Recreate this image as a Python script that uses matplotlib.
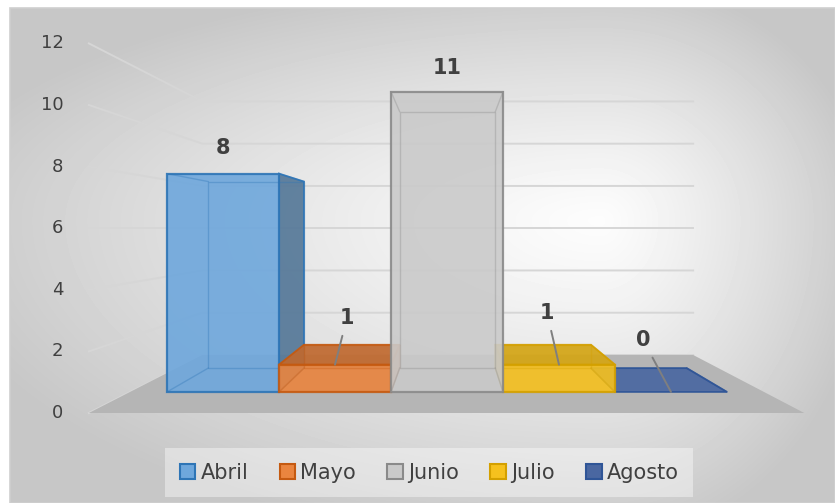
import numpy as np
import matplotlib.pyplot as plt
from matplotlib.patches import Polygon, Patch, Rectangle

months = ['Abril', 'Mayo', 'Junio', 'Julio', 'Agosto']
counts = [8, 1, 11, 1, 0]
yticks = [0, 2, 4, 6, 8, 10, 12]

face = ['#6ea7dc', '#ea853f', '#cacaca', '#f6c11e', '#4a67a1']
side = ['#557898', '#b8652c', '#a8a8a8', '#cf9f12', '#3e5b92']
top = ['#5a8fc4', '#c0692f', '#b5b5b5', '#d4a514', '#4a67a1']
edge = ['#2e75b6', '#c55a11', '#8a8a8a', '#d4a000', '#2f5597']

# label offsets in pixels (dx, dy up) and whether a leader line is drawn
lab_off = [(0, 26), (12, 47), (0, 24), (-12, 52), (-28, 52)]
leader = [False, True, False, True, True]

# fake 3d: vanishing point + depth scale factors
vx, vy = 2.03, 6.0
s_front, s_back, s_wall = 0.886, 0.757, 0.686
fx0, fx1 = -0.83, 4.83


def proj(x, y, s):
    return vx + (x - vx) * s, vy + (y - vy) * s


W, H = 835, 503
fig = plt.figure(figsize=(W / 100, H / 100), dpi=100)
fig.patch.set_facecolor('white')

# background gradient of the chart area
bg = fig.add_axes([10 / W, 0, (W - 10) / W, (H - 8) / H])
yy, xx = np.mgrid[8:H, 10:W]
cx, cy = 600, 220
tx = np.where(xx < cx, (cx - xx) / (cx - 10), (xx - cx) / (W - cx))
ty = np.where(yy < cy, (cy - yy) / (cy - 8), (yy - cy) / (H - cy))
t = np.clip(np.sqrt(tx ** 2 + ty ** 2) / 1.15, 0, 1)
shade = 0.99 - 0.21 * t ** 1.2
bg.imshow(shade, cmap='gray', vmin=0, vmax=1, aspect='auto', interpolation='bilinear')
bg.axis('off')
fig.add_artist(Rectangle((10 / W, 0), (W - 10) / W, (H - 8) / H, transform=fig.transFigure,
                         fill=False, ec='#cfcfcf', lw=1.2))

ax = fig.add_axes([0, 0, 1, 1])
ax.set_xlim(-1.533, 5.073)
ax.set_ylim(-2.922, 13.409)
ax.axis('off')

# gridlines on back + left walls
for v in yticks:
    a = proj(fx0, v, 1)
    b = proj(fx0, v, s_wall)
    c = proj(fx1, v, s_wall)
    ax.plot([a[0], b[0], c[0]], [a[1], b[1], c[1]], color='#d6d6d6', lw=1.4, zorder=1)
    ax.text(-1.03, v, str(v), ha='right', va='center', fontsize=13, color='#404040')

floor = [proj(fx0, 0, 1), proj(fx1, 0, 1), proj(fx1, 0, s_wall), proj(fx0, 0, s_wall)]
ax.add_patch(Polygon(floor, closed=True, fc='#b5b5b5', ec='none', zorder=2))


def draw_box(i, h, z):
    x0, x1 = i - 0.5, i + 0.5
    F = lambda x, y: proj(x, y, s_front)
    B = lambda x, y: proj(x, y, s_back)
    front = [F(x0, 0), F(x1, 0), F(x1, h), F(x0, h)]
    back = [B(x0, 0), B(x1, 0), B(x1, h), B(x0, h)]
    rside = [F(x1, 0), B(x1, 0), B(x1, h), F(x1, h)]
    lside = [F(x0, 0), B(x0, 0), B(x0, h), F(x0, h)]
    topf = [F(x0, h), F(x1, h), B(x1, h), B(x0, h)]
    if x1 < vx:
        ax.add_patch(Polygon(rside, fc=side[i], ec=edge[i], lw=1.3, alpha=0.92, zorder=z))
    if x0 > vx:
        ax.add_patch(Polygon(lside, fc=side[i], ec=edge[i], lw=1.3, alpha=0.92, zorder=z))
    if h < vy:
        ax.add_patch(Polygon(topf, fc=top[i], ec=edge[i], lw=1.3, alpha=0.92, zorder=z))
    if h > 0:
        ax.add_patch(Polygon(front, fc=face[i], ec=edge[i], lw=1.6, alpha=0.9, zorder=z))
    # see-through inner edges
    ax.add_patch(Polygon(back, fill=False, ec=edge[i], lw=1.0, alpha=0.35, zorder=z))
    for k in range(4):
        ax.plot([front[k][0], back[k][0]], [front[k][1], back[k][1]],
                color=edge[i], lw=1.0, alpha=0.35, zorder=z)


order = sorted(range(len(counts)), key=lambda k: -abs(k - vx))
for n, i in enumerate(order):
    draw_box(i, counts[i], 3 + n)

for i, h in enumerate(counts):
    p = proj(i, h, s_front)
    dx, dy = lab_off[i]
    ap = dict(arrowstyle='-', color='#7f7f7f', lw=1.4, shrinkA=4, shrinkB=0) if leader[i] else None
    ax.annotate(str(h), xy=p, xytext=(dx * 0.72, dy * 0.72), textcoords='offset points',
                ha='center', va='center', fontsize=15, fontweight='bold', color='#404040',
                arrowprops=ap, zorder=20)

handles = [Patch(facecolor=face[i], edgecolor=edge[i], lw=1.5, label=m) for i, m in enumerate(months)]
leg = ax.legend(handles=handles, loc='center', bbox_to_anchor=(0.514, 0.0606),
                bbox_transform=fig.transFigure, ncol=5, frameon=True, facecolor='white',
                framealpha=0.4, edgecolor='none', fancybox=False, fontsize=15,
                handlelength=0.75, handleheight=0.75, handletextpad=0.25, columnspacing=1.5,
                labelcolor='#404040', borderpad=0.7, borderaxespad=0)

fig.savefig('out.png', dpi=100)
